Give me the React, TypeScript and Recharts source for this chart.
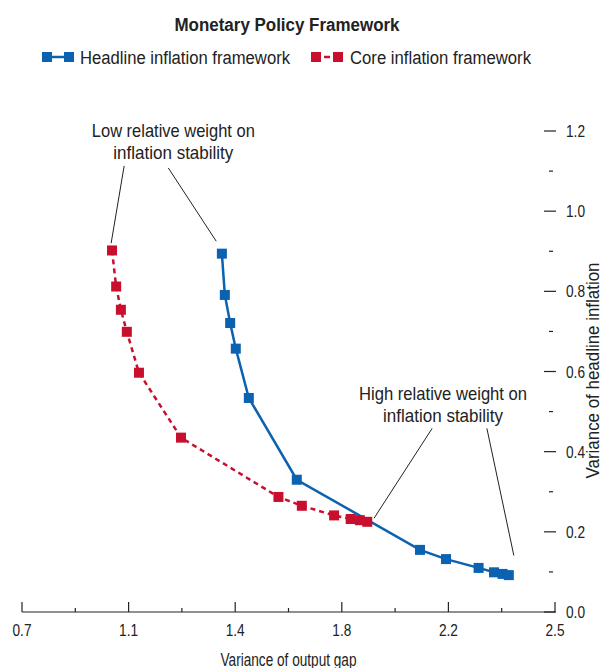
import { LineChart, Line, XAxis, YAxis, ReferenceLine, ReferenceDot } from 'recharts';

const FONT = '"Liberation Sans", Arial, sans-serif';
const BLUE = '#0a62b0';
const RED = '#c8102e';
const INK = '#222';

// Headline inflation framework (x = variance of output gap, y = variance of headline inflation)
const headlineX = [1.375, 1.385, 1.403, 1.422, 1.466, 1.628, 2.044, 2.132, 2.242, 2.294, 2.323, 2.344];
const headlineY = [0.894, 0.791, 0.721, 0.657, 0.534, 0.33, 0.155, 0.132, 0.11, 0.099, 0.095, 0.092];

// Core inflation framework
const coreX = [1.004, 1.018, 1.034, 1.054, 1.095, 1.237, 1.566, 1.645, 1.754, 1.81, 1.841, 1.866];
const coreY = [0.902, 0.812, 0.754, 0.699, 0.597, 0.435, 0.287, 0.265, 0.241, 0.232, 0.229, 0.225];

const xTicks = [0.7, 0.88, 1.06, 1.24, 1.42, 1.6, 1.78, 1.96, 2.14, 2.32, 2.5];
const xTickLabels = ['0.7', '1.1', '1.4', '1.8', '2.2', '2.5'];
const yTicks = [0, 0.1, 0.2, 0.3, 0.4, 0.5, 0.6, 0.7, 0.8, 0.9, 1.0, 1.1, 1.2];
const yTickLabels = ['0.0', '0.2', '0.4', '0.6', '0.8', '1.0', '1.2'];

const headline = headlineX.map((x, i) => ({ x, y: headlineY[i] }));
const core = coreX.map((x, i) => ({ x, y: coreY[i] }));

// condensed look: Liberation Sans squeezed to the width the reference text takes
function T({ x, y, w, size = 16, anchor = 'start', bold = false, transform, children }: any) {
  return (
    <text
      x={x}
      y={y}
      fontSize={size}
      fontFamily={FONT}
      fontWeight={bold ? 'bold' : 'normal'}
      fill={INK}
      textAnchor={anchor}
      textLength={w}
      lengthAdjust="spacingAndGlyphs"
      transform={transform}
    >
      {children}
    </text>
  );
}

const squareDot = (color: string) => (props: any) => {
  const { cx, cy, index } = props;
  if (cx == null || cy == null) return null;
  return <rect key={index} x={cx - 5} y={cy - 5} width={10} height={10} fill={color} />;
};

function XTick({ x, y, index }: any) {
  const major = index % 2 === 0;
  return (
    <g>
      <line x1={x} x2={x} y1={y} y2={y - (major ? 10 : 4)} stroke={INK} strokeWidth={1.2} />
      {major && (
        <T x={x} y={y + 24} w={19} size={17} anchor="middle">
          {xTickLabels[index / 2]}
        </T>
      )}
    </g>
  );
}

function RightTick({ x, y, index }: any) {
  const major = index % 2 === 0;
  return (
    <g>
      <line x1={major ? x - 11 : x - 6} x2={major ? x + 1 : x - 2} y1={y} y2={y} stroke={INK} strokeWidth={1.2} />
      {major && (
        <T x={x + 11} y={y + 6} w={19} size={17}>
          {yTickLabels[index / 2]}
        </T>
      )}
    </g>
  );
}

function LeftTick({ x, y, index }: any) {
  const major = index % 2 === 0;
  if (index === 0) return null;
  return <line x1={x - 1} x2={major ? x + 11 : x + 6} y1={y} y2={y} stroke={INK} strokeWidth={1.2} />;
}

const noteText = (lines: string[], widths: number[]) => (props: any) => {
  const { cx, cy } = props;
  return (
    <g>
      {lines.map((l, i) => (
        <T key={i} x={cx} y={cy + i * 21.5} w={widths[i]} size={18.5} anchor="middle">
          {l}
        </T>
      ))}
    </g>
  );
};

export default function App() {
  return (
    <div style={{ position: 'fixed', left: 0, top: 0, width: 608, height: 668, background: '#fff' }}>
      <svg width={608} height={90} style={{ position: 'absolute', left: 0, top: 0 }}>
        <T x={287} y={31} w={225} size={18} anchor="middle" bold>
          Monetary Policy Framework
        </T>
        <line x1={50} x2={66} y1={57} y2={57} stroke={BLUE} strokeWidth={2.5} />
        <rect x={42} y={52} width={10} height={10} fill={BLUE} />
        <rect x={64} y={52} width={10} height={10} fill={BLUE} />
        <T x={80} y={64} w={210} size={18}>
          Headline inflation framework
        </T>
        <line x1={324} x2={330} y1={57} y2={57} stroke={RED} strokeWidth={2.5} />
        <rect x={311} y={52} width={10} height={10} fill={RED} />
        <rect x={333} y={52} width={10} height={10} fill={RED} />
        <T x={350} y={64} w={181} size={18}>
          Core inflation framework
        </T>
      </svg>
      <LineChart width={608} height={668} margin={{ top: 131, right: 8, bottom: 0, left: 22 }}>
        <XAxis
          type="number"
          dataKey="x"
          domain={[0.7, 2.5]}
          ticks={xTicks}
          interval={0}
          height={56}
          tickSize={0}
          tickMargin={0}
          axisLine={{ stroke: INK, strokeWidth: 1.2 }}
          tickLine={false}
          tick={<XTick />}
          allowDataOverflow
          label={(p: any) => {
            const vb = p.viewBox;
            return (
              <T x={vb.x + vb.width / 2} y={vb.y + vb.height - 2} w={136} size={17.5} anchor="middle">
                Variance of output gap
              </T>
            );
          }}
        />
        <YAxis
          yAxisId="r"
          orientation="right"
          type="number"
          domain={[0, 1.2]}
          ticks={yTicks}
          interval={0}
          width={45}
          tickSize={0}
          tickMargin={0}
          axisLine={false}
          tickLine={false}
          tick={<RightTick />}
          label={(p: any) => {
            const vb = p.viewBox;
            const cx = vb.x + vb.width - 1;
            const cy = vb.y + vb.height / 2 - 1;
            return (
              <T x={cx} y={cy} w={216} size={17.5} anchor="middle" transform={`rotate(-90 ${cx} ${cy})`}>
                Variance of headline inflation
              </T>
            );
          }}
        />
        <YAxis
          yAxisId="l"
          orientation="left"
          type="number"
          domain={[0, 1.2]}
          ticks={yTicks}
          interval={0}
          width={0}
          tickSize={0}
          tickMargin={0}
          axisLine={false}
          tickLine={false}
          tick={<LeftTick />}
        />
        <Line
          yAxisId="r"
          data={core}
          dataKey="y"
          stroke={RED}
          strokeWidth={2.5}
          strokeDasharray="5 4"
          dot={squareDot(RED)}
          activeDot={false}
          isAnimationActive={false}
        />
        <Line
          yAxisId="r"
          data={headline}
          dataKey="y"
          stroke={BLUE}
          strokeWidth={2.5}
          dot={squareDot(BLUE)}
          activeDot={false}
          isAnimationActive={false}
        />
        <ReferenceLine yAxisId="r" segment={[{ x: 1.045, y: 1.113 }, { x: 1.001, y: 0.92 }]} stroke={INK} strokeWidth={1} ifOverflow="visible" />
        <ReferenceLine yAxisId="r" segment={[{ x: 1.194, y: 1.108 }, { x: 1.356, y: 0.925 }]} stroke={INK} strokeWidth={1} ifOverflow="visible" />
        <ReferenceLine yAxisId="r" segment={[{ x: 2.085, y: 0.458 }, { x: 1.889, y: 0.234 }]} stroke={INK} strokeWidth={1} ifOverflow="visible" />
        <ReferenceLine yAxisId="r" segment={[{ x: 2.27, y: 0.458 }, { x: 2.361, y: 0.141 }]} stroke={INK} strokeWidth={1} ifOverflow="visible" />
        <ReferenceDot yAxisId="r" x={1.211} y={1.185} r={0} ifOverflow="visible" shape={noteText(['Low relative weight on', 'inflation stability'], [163, 120])} />
        <ReferenceDot yAxisId="r" x={2.122} y={0.528} r={0} ifOverflow="visible" shape={noteText(['High relative weight on', 'inflation stability'], [168, 120])} />
      </LineChart>
    </div>
  );
}
